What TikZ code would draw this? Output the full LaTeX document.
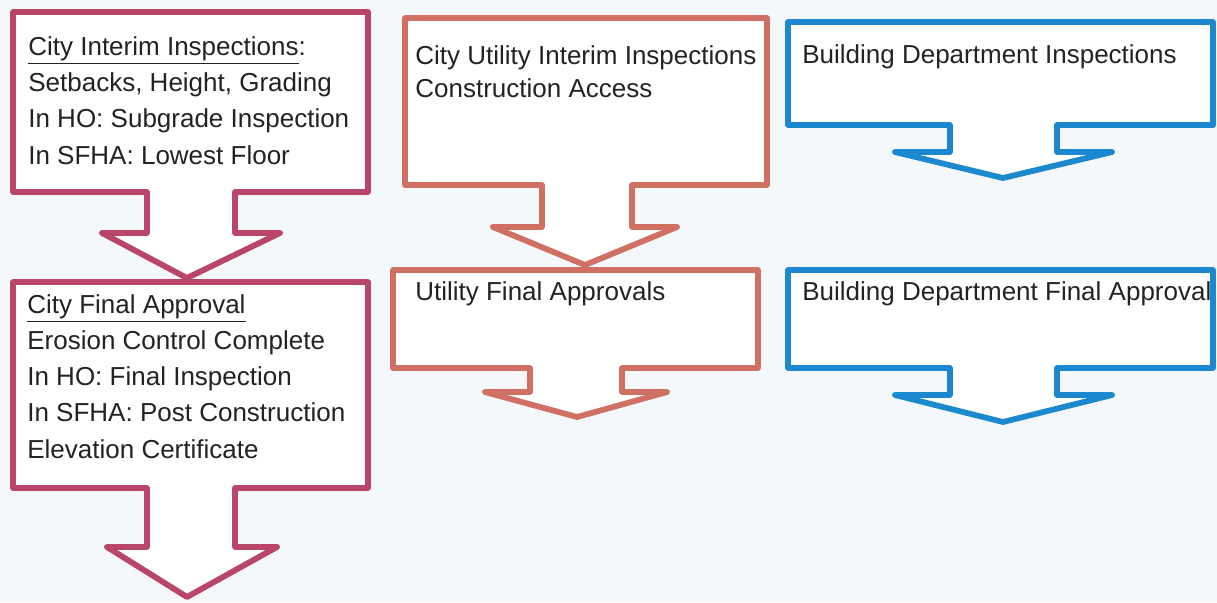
\documentclass[tikz,border=0pt]{standalone}
\usepackage{fontspec}
\setmainfont{Liberation Sans}
\usepackage{tikz}
\definecolor{city-red}{RGB}{185,70,105}
\definecolor{util-red}{RGB}{207,112,98}
\definecolor{bd-blue}{RGB}{28,136,207}
\definecolor{paper}{RGB}{245,248,250}
\definecolor{ink}{RGB}{35,35,35}

\begin{document}
\begin{tikzpicture}
[
  x=0.02cm, y=-0.02cm,
  callout/.style={line width=3.3pt, line join=round, fill=white},
  label/.style={inner sep=0pt, anchor=base west, align=left, text=ink,
                font=\fontsize{14.8}{20.6}\selectfont},
]
\fill[paper] (0,0) rectangle (1217,602);
\useasboundingbox (0,0) rectangle (1217,602);

% city column
\draw[callout,draw=city-red] (13,12) -- (368,12) -- (368,192) -- (235,192) -- (235,233) -- (280,233)
  -- (187,278) -- (102,233) -- (147,233) -- (147,192) -- (13,192) -- cycle;
\draw[callout,draw=city-red] (13,282) -- (368,282) -- (368,488) -- (235,488) -- (235,547) -- (277,547)
  -- (187,597) -- (107,547) -- (147,547) -- (147,488) -- (13,488) -- cycle;

% utility column
\draw[callout,draw=util-red] (405,18) -- (767,18) -- (767,185) -- (632,185) -- (632,227) -- (677,227)
  -- (585,265) -- (493,227) -- (542,227) -- (542,185) -- (405,185) -- cycle;
\draw[callout,draw=util-red] (393,270) -- (758,270) -- (758,368) -- (622,368) -- (622,392) -- (667,392)
  -- (577,417) -- (485,392) -- (530,392) -- (530,368) -- (393,368) -- cycle;

% building department column
\draw[callout,draw=bd-blue] (788,22) -- (1213,22) -- (1213,125) -- (1057,125) -- (1057,152) -- (1112,152)
  -- (1003,178) -- (895,152) -- (950,152) -- (950,125) -- (788,125) -- cycle;
\draw[callout,draw=bd-blue] (788,270) -- (1213,270) -- (1213,368) -- (1057,368) -- (1057,395) -- (1112,395)
  -- (1003,422) -- (895,395) -- (950,395) -- (950,368) -- (788,368) -- cycle;

% base anchor sits on the last line of each label
\node[label] (cityinterim) at (28,164) {\underline{City Interim Inspections}:\\
  Setbacks, Height, Grading\\ In HO: Subgrade Inspection\\ In SFHA: Lowest Floor};
\node[label] (cityfinal) at (27,458) {\underline{City Final Approval}\\ Erosion Control Complete\\
  In HO: Final Inspection\\ In SFHA: Post Construction\\ Elevation Certificate};
\node[label,font=\fontsize{14.8}{18.3}\selectfont] (utilinterim) at (415,97)
  {City Utility Interim Inspections\\ Construction Access};
\node[label] (utilfinal) at (415,300) {Utility Final Approvals};
\node[label] (bdinsp) at (802,63) {Building Department Inspections};
\node[label] (bdfinal) at (802,300) {Building Department Final Approval};
\end{tikzpicture}
\end{document}
